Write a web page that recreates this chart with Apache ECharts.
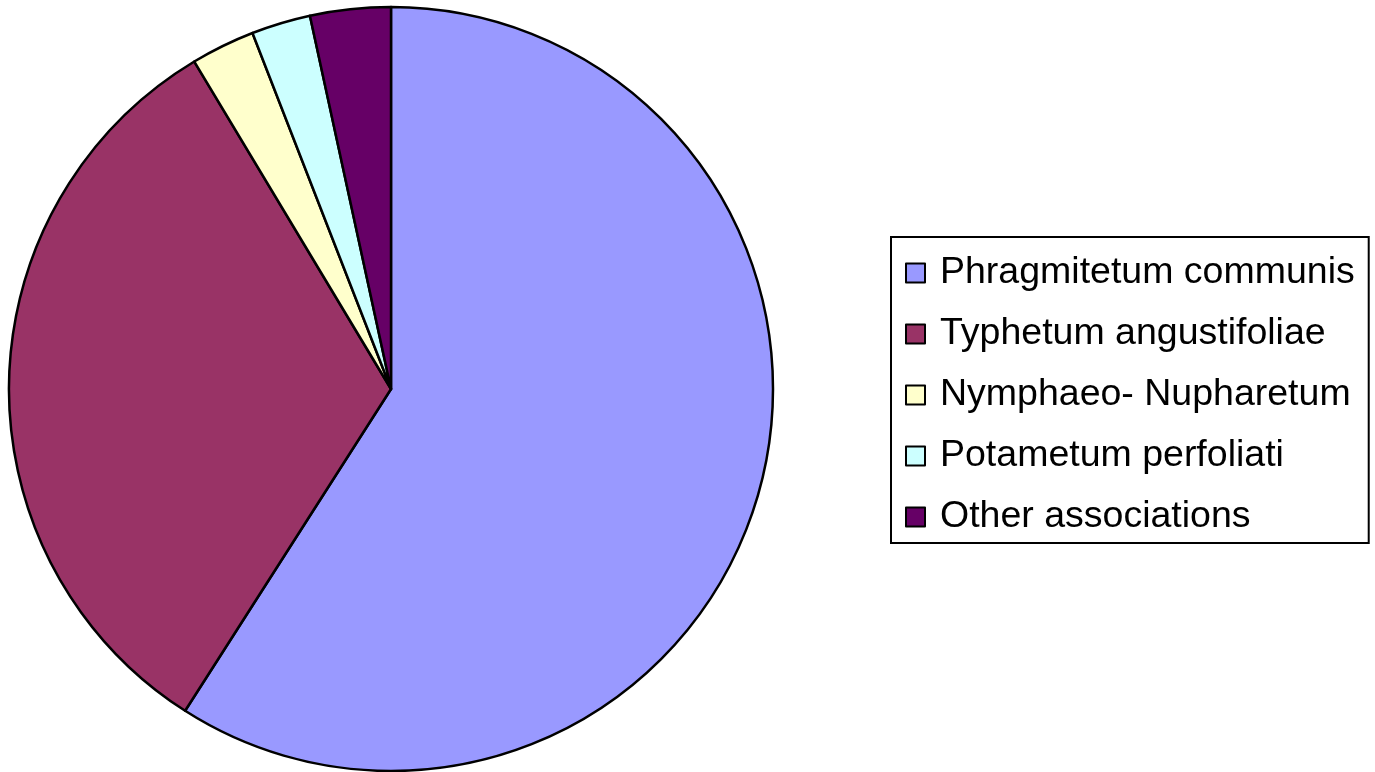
<!DOCTYPE html>
<html>
<head>
<meta charset="utf-8">
<script src="https://cdn.jsdelivr.net/npm/echarts@6/dist/echarts.min.js"></script>
<style>
  html, body { margin: 0; padding: 0; background: #ffffff; }
  #chart { width: 1375px; height: 772px; }
</style>
</head>
<body>
<div id="chart"></div>
<script>
// Plant associations share (%)
const categories = [
  'Phragmitetum communis',
  'Typhetum angustifoliae',
  'Nymphaeo- Nupharetum',
  'Potametum perfoliati',
  'Other associations'
];
const values = [59.0, 32.3, 2.7, 2.5, 3.4];
const colors = ['#9999FF', '#993366', '#FFFFCC', '#CCFFFF', '#660066'];

const chart = echarts.init(document.getElementById('chart'), null, { renderer: 'canvas' });

chart.setOption({
  backgroundColor: '#ffffff',
  animation: false,
  textStyle: { fontFamily: '"Liberation Sans", Arial, sans-serif' },
  legend: {
    orient: 'vertical',
    left: 891,
    top: 237,
    padding: [16, 14, 6, 14],
    itemGap: 21,
    itemWidth: 19,
    itemHeight: 19,
    icon: 'rect',
    borderColor: '#000000',
    borderWidth: 2,
    itemStyle: { borderColor: '#000000', borderWidth: 2 },
    textStyle: {
      fontSize: 37.5,
      color: '#000000',
      lineHeight: 40,
      padding: [0, 0, 0, 10],
      fontFamily: '"Liberation Sans", Arial, sans-serif'
    },
    data: categories
  },
  series: [{
    type: 'pie',
    center: [391, 389],
    radius: 382,
    startAngle: 90,
    clockwise: true,
    label: { show: false },
    labelLine: { show: false },
    emphasis: { disabled: true },
    itemStyle: { borderColor: '#000000', borderWidth: 2.5 },
    data: categories.map((name, i) => ({
      name: name,
      value: values[i],
      itemStyle: { color: colors[i] }
    }))
  }]
});
</script>
</body>
</html>
